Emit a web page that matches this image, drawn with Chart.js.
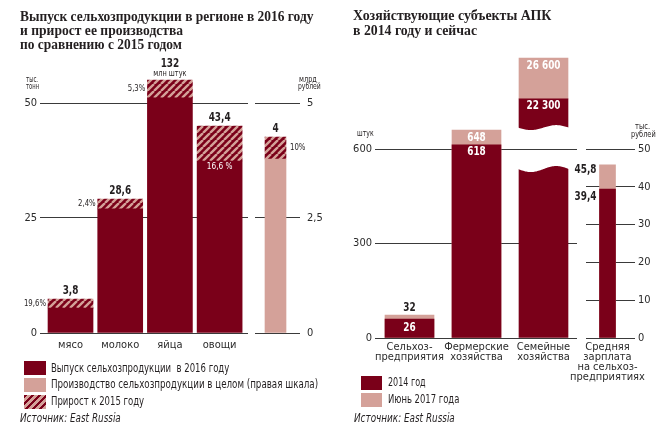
<!DOCTYPE html>
<html lang="ru"><head><meta charset="utf-8">
<script src="https://cdn.jsdelivr.net/npm/chart.js@4.4.1/dist/chart.umd.min.js"></script>
<style>
html,body{margin:0;padding:0;background:#fff;}
#wrap{position:relative;width:668px;height:445px;overflow:hidden;color:#231f20;font-family:"Liberation Sans Narrow","DejaVu Sans Condensed",sans-serif;}
canvas{position:absolute;top:0;}
.t{position:absolute;white-space:pre;transform-origin:0 0;line-height:1;display:inline-block;}
.ttl{font-family:"Liberation Serif","DejaVu Serif",serif;font-weight:bold;font-size:14px;}
.lg{font-size:11.5px;}
.un{font-size:8.5px;}
.src{font-size:11.5px;font-style:italic;}
.sw{position:absolute;}
</style></head><body>
<div id="wrap">
<canvas id="cA" width="250" height="445" style="left:0px"></canvas>
<canvas id="cB" width="80" height="445" style="left:250px"></canvas>
<canvas id="cC" width="240" height="445" style="left:340px"></canvas>
<canvas id="cD" width="108" height="445" style="left:560px"></canvas>

<div class="t ttl" data-w="293" style="left:20px;top:9.8px">Выпуск сельхозпродукции в регионе в 2016 году</div>
<div class="t ttl" data-w="163" style="left:20px;top:24.1px">и прирост ее производства</div>
<div class="t ttl" data-w="162" style="left:20px;top:38.3px">по сравнению с 2015 годом</div>
<div class="t ttl" data-w="198" style="left:353px;top:9.3px">Хозяйствующие субъекты АПК</div>
<div class="t ttl" data-w="124" style="left:353px;top:23.5px">в 2014 году и сейчас</div>

<div class="t un" data-w="12" style="left:26px;top:75.1px">тыс.</div>
<div class="t un" data-w="13" style="left:26px;top:81.8px">тонн</div>
<div class="t un" data-w="18" style="left:299px;top:75.1px">млрд</div>
<div class="t un" data-w="23" style="left:297.7px;top:82.3px">рублей</div>
<div class="t un" data-w="17" style="left:357px;top:128.8px">штук</div>
<div class="t un" data-w="15" style="left:635px;top:121.8px">тыс.</div>
<div class="t un" data-w="25" style="left:631px;top:129.8px">рублей</div>

<div class="sw" id="sw1" style="left:24px;top:361px;width:22px;height:13.5px"></div>
<div class="sw" id="sw2" style="left:24px;top:378px;width:22px;height:13.5px"></div>
<div class="sw" id="sw3" style="left:24px;top:395px;width:22px;height:13.5px"></div>
<div class="t lg" data-w="178" style="left:51px;top:362.6px">Выпуск сельхозпродукции  в 2016 году</div>
<div class="t lg" data-w="267" style="left:51px;top:379.3px">Производство сельхозпродукции в целом (правая шкала)</div>
<div class="t lg" data-w="93" style="left:51px;top:396.3px">Прирост к 2015 году</div>
<div class="t src" data-w="101" style="left:20px;top:413px">Источник: East Russia</div>

<div class="sw" id="sw4" style="left:361px;top:376px;width:21px;height:13.5px"></div>
<div class="sw" id="sw5" style="left:361px;top:393px;width:21px;height:13.5px"></div>
<div class="t lg" data-w="38" style="left:388px;top:377px">2014 год</div>
<div class="t lg" data-w="71" style="left:388px;top:394.3px">Июнь 2017 года</div>
<div class="t src" data-w="101" style="left:354px;top:413px">Источник: East Russia</div>
</div>
<script>
// ---------- data: left panel ----------
const products = ['мясо', 'молоко', 'яйца', 'овощи'];
const output2016 = [5.4, 27.0, 51.1, 37.4];       // dark part, as drawn (left scale)
const growth2015 = [2.0, 2.1, 3.9, 7.6];          // hatched part, as drawn
const totalLabels = ['3,8', '28,6', '132', '43,4'];
const totalUnits = ['', '', 'млн штук', ''];
const growthLabels = ['19,6%', '2,4%', '5,3%', '16,6 %'];
const leftTicks = [0, 25, 50];
const agriTotal = [3.78];                          // right scale, млрд рублей
const agriGrowth = [0.48];
const agriLabels = ['4'];
const agriGrowthLabels = ['10%'];
const agriTicks = [0, 2.5, 5];

// ---------- data: right panel ----------
const entities = [['Сельхоз-', 'предприятия'], ['Фермерские', 'хозяйства'], ['Семейные', 'хозяйства']];
const count2014 = [60, 613, 549];                  // as drawn (lower bars)
const count2017 = [73, 660];
const familyUpper2014 = [660, 759];                // broken-bar upper fragment
const familyUpper2017 = [759, 889];
const count2014Labels = ['26', '618', '22 300'];
const count2017Labels = ['32', '648', '26 600'];
const countTicks = [0, 300, 600];
const wageCategory = [['Средняя', 'зарплата', 'на сельхоз-', 'предприятиях']];
const wage2014 = [39.4];
const wage2017 = [45.8];
const wage2014Labels = ['39,4'];
const wage2017Labels = ['45,8'];
const wageTicks = [0, 10, 20, 30, 40, 50];

// ---------- styles ----------
const DARK = '#7a0019', PINK = '#d4a199', GRID = '#3a3a3a', INK = '#231f20', TICK = '#2b2b2b';
const NARROW = '"Liberation Sans Narrow","DejaVu Sans Condensed",sans-serif';
const SX = 0.86;
Chart.defaults.font.family = NARROW;
Chart.defaults.color = INK;

function makeHatch() {
  const s = 7, c = document.createElement('canvas');
  c.width = c.height = s;
  const g = c.getContext('2d');
  g.fillStyle = DARK; g.fillRect(0, 0, s, s);
  g.strokeStyle = PINK; g.lineWidth = 2.4;
  g.beginPath();
  for (let k = -1; k <= 1; k++) { g.moveTo(k * s, s); g.lineTo(k * s + s, 0); }
  g.stroke();
  return g.createPattern(c, 'repeat');
}
const hatch = makeHatch();
const fmt = v => String(v).replace('.', ',');
const fixedTicks = arr => s => { s.ticks = arr.map(v => ({ value: v })); };
function txt(ctx, s, x, y, font, color, align, base) {
  ctx.save(); ctx.font = font + ' ' + NARROW; ctx.fillStyle = color;
  ctx.textAlign = align; ctx.textBaseline = base;
  ctx.translate(x, y); ctx.scale(SX, 1); ctx.fillText(s, 0, 0); ctx.restore();
}
const common = { responsive: false, animation: false, devicePixelRatio: 1, events: [],
  plugins: { legend: { display: false }, tooltip: { enabled: false } } };

// ---------- chart A ----------
const labelsA = { id: 'labelsA', afterDatasetsDraw(chart) {
  const ctx = chart.ctx, base = chart.getDatasetMeta(0).data, top = chart.getDatasetMeta(1).data;
  top.forEach((el, i) => {
    const left = el.x - el.width / 2;
    if (totalUnits[i]) {
      txt(ctx, totalUnits[i], el.x, el.y - 4, '8.5px', INK, 'center', 'alphabetic');
      txt(ctx, totalLabels[i], el.x, el.y - 13, 'bold 11.5px', INK, 'center', 'alphabetic');
    } else {
      txt(ctx, totalLabels[i], el.x, el.y - 5, 'bold 11.5px', INK, 'center', 'alphabetic');
    }
    if (i < 3) txt(ctx, growthLabels[i], left - 2, (el.y + el.base) / 2, '9px', INK, 'right', 'middle');
    else txt(ctx, growthLabels[i], el.x, base[i].y + 5.5, '9.5px', '#fff', 'center', 'middle');
  });
} };
new Chart(document.getElementById('cA'), {
  type: 'bar',
  data: { datasets: [
    { label: 'Выпуск сельхозпродукции в 2016 году', data: output2016.map((v, i) => ({ x: i, y: v })), backgroundColor: DARK, barThickness: 45 },
    { label: 'Прирост к 2015 году', data: growth2015.map((v, i) => ({ x: i, y: v })), backgroundColor: hatch, barThickness: 45 }
  ] },
  options: Object.assign({}, common, {
    layout: { padding: { top: 57, bottom: 52, left: 0, right: 2 } },
    scales: {
      x: { type: 'linear', offset: false, stacked: true, min: -0.614, max: 3.571,
        grid: { display: false, drawTicks: false }, border: { display: false },
        afterBuildTicks: fixedTicks([0, 1, 2, 3]),
        ticks: { callback: v => products[v], font: { size: 11 }, color: TICK, padding: 6, maxRotation: 0, autoSkip: false },
        afterFit: s => { s.height = 60; s.paddingLeft = 0; s.paddingRight = 0; } },
      y: { stacked: true, min: 0, max: 60, afterBuildTicks: fixedTicks(leftTicks),
        grid: { color: GRID, drawTicks: false }, border: { display: false },
        ticks: { padding: 3, callback: fmt, font: { size: 11 }, color: TICK },
        afterFit: s => { s.width = 40; } }
    }
  }),
  plugins: [labelsA]
});

// ---------- chart B ----------
const labelsB = { id: 'labelsB', afterDatasetsDraw(chart) {
  const ctx = chart.ctx;
  chart.getDatasetMeta(1).data.forEach((el, i) => {
    txt(ctx, agriLabels[i], el.x, el.y - 5, 'bold 11.5px', INK, 'center', 'alphabetic');
    txt(ctx, agriGrowthLabels[i], el.x + el.width / 2 + 4, (el.y + el.base) / 2, '9px', INK, 'left', 'middle');
  });
} };
new Chart(document.getElementById('cB'), {
  type: 'bar',
  data: { labels: [''], datasets: [
    { label: 'Производство сельхозпродукции в целом', data: agriTotal, backgroundColor: PINK, barThickness: 21 },
    { label: 'Прирост к 2015 году', data: agriGrowth, backgroundColor: hatch, barThickness: 21 }
  ] },
  options: Object.assign({}, common, {
    layout: { padding: { top: 57, bottom: 52, left: 5, right: 0 } },
    scales: {
      x: { stacked: true, grid: { display: false, drawTicks: false }, border: { display: false }, ticks: { display: false },
        afterFit: s => { s.height = 60; s.paddingLeft = 0; s.paddingRight = 0; } },
      y: { position: 'right', stacked: true, min: 0, max: 6, afterBuildTicks: fixedTicks(agriTicks),
        grid: { color: GRID, tickLength: 4 }, border: { display: false },
        ticks: { padding: 7, callback: fmt, font: { size: 11 }, color: TICK },
        afterFit: s => { s.width = 34; } }
    }
  }),
  plugins: [labelsB]
});

// ---------- chart C ----------
const waveC = { id: 'waveC', afterDatasetsDraw(chart) {
  const ctx = chart.ctx;
  const lo = chart.getDatasetMeta(0).data[2];
  const up = chart.getDatasetMeta(2).data[0];
  ctx.save(); ctx.fillStyle = '#fff';
  let L = lo.x - lo.width / 2 - 1, R = lo.x + lo.width / 2 + 1;
  ctx.beginPath(); ctx.moveTo(L, lo.y - 2); ctx.lineTo(R, lo.y - 2);
  for (let t = 1; t >= -0.001; t -= 0.02) ctx.lineTo(L + (R - L) * t, lo.y + 4 + 3 * Math.sin(2 * Math.PI * t));
  ctx.closePath(); ctx.fill();
  L = up.x - up.width / 2 - 1; R = up.x + up.width / 2 + 1;
  ctx.beginPath(); ctx.moveTo(L, up.base + 2); ctx.lineTo(R, up.base + 2);
  for (let t = 1; t >= -0.001; t -= 0.02) ctx.lineTo(L + (R - L) * t, up.base - 2.5 + 2.5 * Math.sin(2 * Math.PI * t));
  ctx.closePath(); ctx.fill();
  ctx.restore();
} };
const labelsC = { id: 'labelsC', afterDatasetsDraw(chart) {
  const ctx = chart.ctx;
  const d0 = chart.getDatasetMeta(0).data, d1 = chart.getDatasetMeta(1).data;
  const d2 = chart.getDatasetMeta(2).data[0], d3 = chart.getDatasetMeta(3).data[0];
  txt(ctx, count2014Labels[0], d0[0].x, d0[0].y + 9, 'bold 11.5px', '#fff', 'center', 'middle');
  txt(ctx, count2014Labels[1], d0[1].x, d0[1].y + 7, 'bold 11.5px', '#fff', 'center', 'middle');
  txt(ctx, count2017Labels[0], d1[0].x, d1[0].y - 4, 'bold 11.5px', INK, 'center', 'alphabetic');
  txt(ctx, count2017Labels[1], d1[1].x, d1[1].y + 7.5, 'bold 11.5px', '#fff', 'center', 'middle');
  txt(ctx, count2014Labels[2], d2.x, d2.y + 7.5, 'bold 11.5px', '#fff', 'center', 'middle');
  txt(ctx, count2017Labels[2], d3.x, d3.y + 8.5, 'bold 11.5px', '#fff', 'center', 'middle');
} };
new Chart(document.getElementById('cC'), {
  type: 'bar',
  data: { datasets: [
    { label: '2014 год', data: count2014.map((v, i) => ({ x: i, y: v })), backgroundColor: DARK, barThickness: 49, grouped: false },
    { label: 'Июнь 2017 года', data: count2017.map((v, i) => ({ x: i, y: v })), backgroundColor: PINK, barThickness: 49, grouped: false },
    { label: '2014 год', data: [{ x: 2, y: familyUpper2014 }], backgroundColor: DARK, barThickness: 49, grouped: false },
    { label: 'Июнь 2017 года', data: [{ x: 2, y: familyUpper2017 }], backgroundColor: PINK, barThickness: 49, grouped: false }
  ] },
  options: Object.assign({}, common, {
    layout: { padding: { top: 54.5, bottom: 47, left: 0, right: 3 } },
    scales: {
      x: { type: 'linear', offset: false, min: -0.515, max: 2.5,
        grid: { display: false, drawTicks: false }, border: { display: false },
        afterBuildTicks: fixedTicks([0, 1, 2]),
        ticks: { callback: v => entities[v], font: { size: 11, lineHeight: 0.9 }, color: TICK, padding: 4, maxRotation: 0, autoSkip: false },
        afterFit: s => { s.height = 60; s.paddingLeft = 0; s.paddingRight = 0; } },
      y: { min: 0, max: 900, afterBuildTicks: fixedTicks(countTicks),
        grid: { color: GRID, drawTicks: false }, border: { display: false },
        ticks: { padding: 3, font: { size: 11 }, color: TICK },
        afterFit: s => { s.width = 35; } }
    }
  }),
  plugins: [waveC, labelsC]
});

// ---------- chart D ----------
const labelsD = { id: 'labelsD', afterDatasetsDraw(chart) {
  const ctx = chart.ctx;
  const a = chart.getDatasetMeta(0).data[0], b = chart.getDatasetMeta(1).data[0];
  txt(ctx, wage2017Labels[0], b.x - b.width / 2 - 3, b.y + 5, 'bold 11.5px', INK, 'right', 'middle');
  txt(ctx, wage2014Labels[0], a.x - a.width / 2 - 3, a.y + 8, 'bold 11.5px', INK, 'right', 'middle');
} };
new Chart(document.getElementById('cD'), {
  type: 'bar',
  data: { labels: wageCategory, datasets: [
    { label: '2014 год', data: wage2014, backgroundColor: DARK, barThickness: 16, grouped: false },
    { label: 'Июнь 2017 года', data: wage2017, backgroundColor: PINK, barThickness: 16, grouped: false }
  ] },
  options: Object.assign({}, common, {
    layout: { padding: { top: 54.5, bottom: 47, left: 26, right: 0 } },
    scales: {
      x: { grid: { display: false, drawTicks: false }, border: { display: false },
        ticks: { font: { size: 11, lineHeight: 0.9 }, color: TICK, padding: 4, maxRotation: 0, autoSkip: false },
        afterFit: s => { s.height = 60; s.paddingLeft = 0; s.paddingRight = 0; } },
      y: { position: 'right', min: 0, max: 75, afterBuildTicks: fixedTicks(wageTicks),
        grid: { color: GRID, tickLength: 6 }, border: { display: false },
        ticks: { padding: 3, font: { size: 11 }, color: TICK },
        afterFit: s => { s.width = 39; } }
    }
  }),
  plugins: [labelsD]
});

// ---------- legend swatches & text fitting ----------
document.getElementById('sw1').style.background = DARK;
document.getElementById('sw2').style.background = PINK;
document.getElementById('sw3').style.background = `repeating-linear-gradient(135deg, ${DARK} 0 2.6px, ${PINK} 2.6px 5px)`;
document.getElementById('sw4').style.background = DARK;
document.getElementById('sw5').style.background = PINK;
document.querySelectorAll('[data-w]').forEach(el => {
  const w = el.offsetWidth;
  if (w > 0) el.style.transform = `scaleX(${(+el.dataset.w / w).toFixed(4)})`;
});
</script>
</body></html>
